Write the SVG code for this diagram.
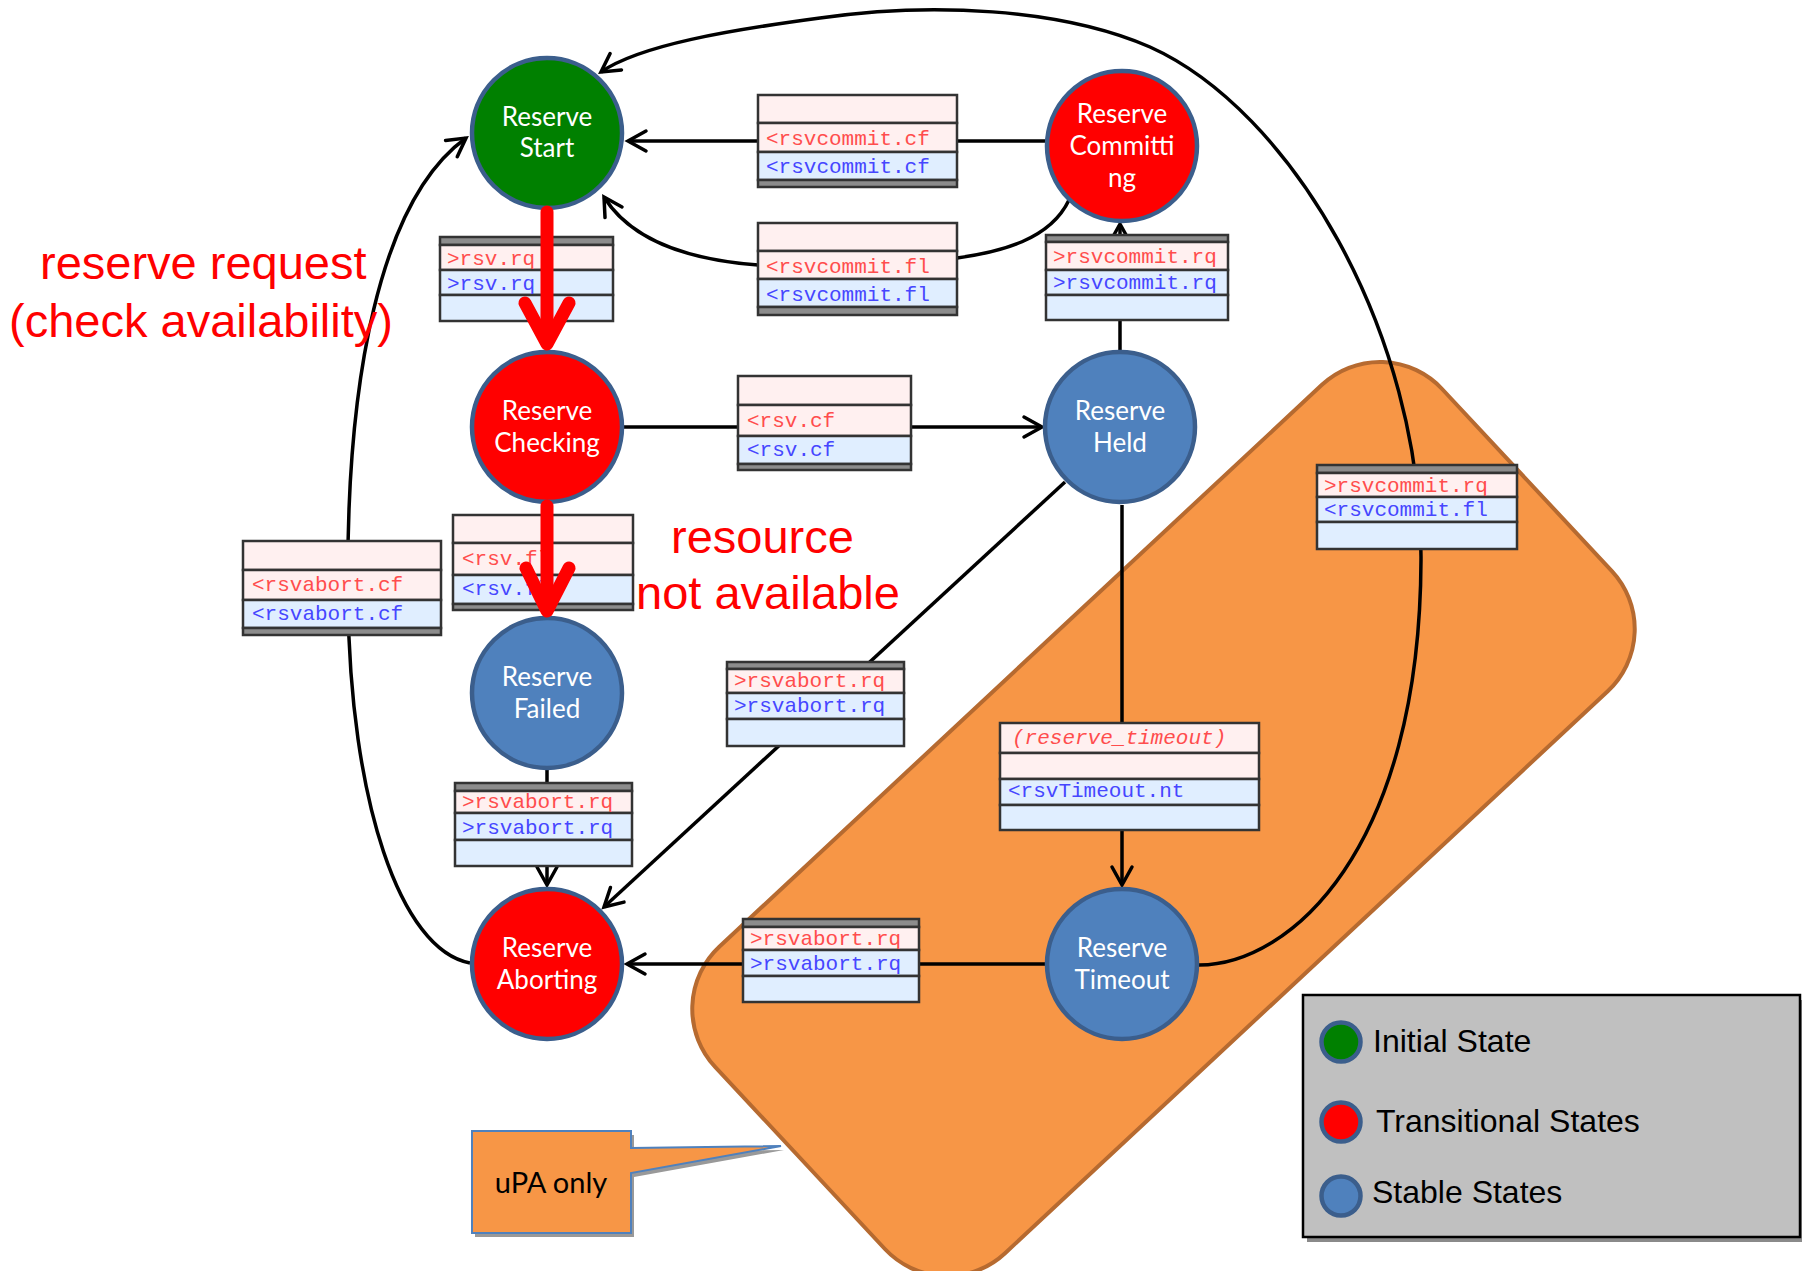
<svg xmlns="http://www.w3.org/2000/svg" width="1802" height="1271" viewBox="0 0 1802 1271">
<style>
.node circle{stroke:#3b5e8c;stroke-width:4.5}
.green{fill:#008000}.red{fill:#ff0000}.blue{fill:#4f81bd}
.nt{fill:#ffffff;font-family:Lato,"Open Sans",sans-serif;font-size:26px;text-anchor:middle}
.conn path,.conn line{fill:none;stroke:#000;stroke-width:3.5}
.tbl rect{stroke:#333;stroke-width:2.5}
.p{fill:#fff0f0}.b{fill:#e0eeff}.bar{fill:#8c8c8c}
.mt{font-family:"Liberation Mono","Courier New",monospace;font-size:21px}
.tp{fill:#ff4d4d}.tbu{fill:#4646ff}
.ann{fill:#ff0000;font-family:"Liberation Sans",Arial,sans-serif;font-size:47px}
.leg{fill:#000;font-family:"Liberation Sans",Arial,sans-serif;font-size:32px}
.redarrow{fill:none;stroke:#ff0000;stroke-width:13;stroke-linecap:round;stroke-linejoin:round}
</style>
<defs>
<marker id="arr" markerUnits="userSpaceOnUse" markerWidth="40" markerHeight="40" viewBox="-25 -20 40 40" refX="0" refY="0" orient="auto">
<path d="M-18,-10 L0,0 L-18,10" fill="none" stroke="#000" stroke-width="3.5" stroke-linecap="round" stroke-linejoin="miter"/>
</marker>
</defs>
<rect width="1802" height="1271" fill="#ffffff"/>

<g id="upa-region">
<rect x="-497" y="-209.5" width="994" height="419" rx="85" ry="85" transform="translate(1163.5,819) rotate(-43)" fill="#f79646" stroke="#b66a30" stroke-width="4"/>
</g>

<g id="connectors" class="conn">
<path d="M1046,141 L628,141" marker-end="url(#arr)"/>
<path d="M1069,200 C1050,240 1000,252 957,258 L758,265 C690,260 632,242 604,197" marker-end="url(#arr)"/>
<path d="M1199,965 C1290,965 1420,850 1421,560 C1422,330 1290,110 1150,47 C1060,8 930,2 820,18 C730,30 640,45 601,72" marker-end="url(#arr)"/>
<path d="M470,963 C400,950 350,800 348,600 C345,380 380,200 466,138" marker-end="url(#arr)"/>
<path d="M624,427 L1042,427" marker-end="url(#arr)"/>
<path d="M1120,350 L1120,224" marker-end="url(#arr)"/>
<path d="M1065,482 L604,907" marker-end="url(#arr)"/>
<path d="M1122,505 L1122,885" marker-end="url(#arr)"/>
<path d="M547,770 L547,885" marker-end="url(#arr)"/>
<path d="M1046,964 L627,964" marker-end="url(#arr)"/>
</g>

<g id="t-rsvcommit-cf" class="tbl">
<rect class="p" x="758" y="95" width="199" height="28"/>
<rect class="p" x="758" y="123" width="199" height="29"/>
<rect class="b" x="758" y="152" width="199" height="28"/>
<rect class="bar" x="758" y="180" width="199" height="7"/>
<text class="mt tp" x="766" y="145">&lt;rsvcommit.cf</text>
<text class="mt tbu" x="766" y="173">&lt;rsvcommit.cf</text>
</g>
<g id="t-rsvcommit-fl" class="tbl">
<rect class="p" x="758" y="223" width="199" height="28"/>
<rect class="p" x="758" y="251" width="199" height="28"/>
<rect class="b" x="758" y="279" width="199" height="28"/>
<rect class="bar" x="758" y="307" width="199" height="8"/>
<text class="mt tp" x="766" y="273">&lt;rsvcommit.fl</text>
<text class="mt tbu" x="766" y="301">&lt;rsvcommit.fl</text>
</g>
<g id="t-rsv-rq" class="tbl">
<rect class="bar" x="440" y="237" width="173" height="8"/>
<rect class="p" x="440" y="245" width="173" height="25"/>
<rect class="b" x="440" y="270" width="173" height="25"/>
<rect class="b" x="440" y="295" width="173" height="26"/>
<text class="mt tp" x="447" y="265">&gt;rsv.rq</text>
<text class="mt tbu" x="447" y="290">&gt;rsv.rq</text>
</g>
<g id="t-rsvcommit-rq" class="tbl">
<rect class="bar" x="1046" y="235" width="182" height="7"/>
<rect class="p" x="1046" y="242" width="182" height="28"/>
<rect class="b" x="1046" y="270" width="182" height="25"/>
<rect class="b" x="1046" y="295" width="182" height="25"/>
<text class="mt tp" x="1053" y="263">&gt;rsvcommit.rq</text>
<text class="mt tbu" x="1053" y="289">&gt;rsvcommit.rq</text>
</g>
<g id="t-rsv-cf" class="tbl">
<rect class="p" x="738" y="376" width="173" height="29"/>
<rect class="p" x="738" y="405" width="173" height="31"/>
<rect class="b" x="738" y="436" width="173" height="28"/>
<rect class="bar" x="738" y="464" width="173" height="6"/>
<text class="mt tp" x="747" y="427">&lt;rsv.cf</text>
<text class="mt tbu" x="747" y="456">&lt;rsv.cf</text>
</g>
<g id="t-rsvabort-cf" class="tbl">
<rect class="p" x="243" y="541" width="198" height="29"/>
<rect class="p" x="243" y="570" width="198" height="30"/>
<rect class="b" x="243" y="600" width="198" height="28"/>
<rect class="bar" x="243" y="628" width="198" height="7"/>
<text class="mt tp" x="252" y="591">&lt;rsvabort.cf</text>
<text class="mt tbu" x="252" y="620">&lt;rsvabort.cf</text>
</g>
<g id="t-rsv-fl" class="tbl">
<rect class="p" x="453" y="515" width="180" height="28"/>
<rect class="p" x="453" y="543" width="180" height="32"/>
<rect class="b" x="453" y="575" width="180" height="29"/>
<rect class="bar" x="453" y="604" width="180" height="6"/>
<text class="mt tp" x="462" y="565">&lt;rsv.fl</text>
<text class="mt tbu" x="462" y="595">&lt;rsv.fl</text>
</g>
<g id="t-rsvabort-rq-mid" class="tbl">
<rect class="bar" x="727" y="662" width="177" height="7"/>
<rect class="p" x="727" y="669" width="177" height="24"/>
<rect class="b" x="727" y="693" width="177" height="26"/>
<rect class="b" x="727" y="719" width="177" height="27"/>
<text class="mt tp" x="734" y="687">&gt;rsvabort.rq</text>
<text class="mt tbu" x="734" y="712">&gt;rsvabort.rq</text>
</g>
<g id="t-reserve-timeout" class="tbl">
<rect class="p" x="1000" y="723" width="259" height="30"/>
<rect class="p" x="1000" y="753" width="259" height="26"/>
<rect class="b" x="1000" y="779" width="259" height="26"/>
<rect class="b" x="1000" y="805" width="259" height="25"/>
<text class="mt tp" x="1012" y="744" font-style="italic" font-size="20.5">(reserve_timeout)</text>
<text class="mt tbu" x="1008" y="797">&lt;rsvTimeout.nt</text>
</g>
<g id="t-rsvcommit-rq-fl" class="tbl">
<rect class="bar" x="1317" y="465" width="200" height="8"/>
<rect class="p" x="1317" y="473" width="200" height="24"/>
<rect class="b" x="1317" y="497" width="200" height="25"/>
<rect class="b" x="1317" y="522" width="200" height="27"/>
<text class="mt tp" x="1324" y="492">&gt;rsvcommit.rq</text>
<text class="mt tbu" x="1324" y="516">&lt;rsvcommit.fl</text>
</g>
<g id="t-rsvabort-rq-failed" class="tbl">
<rect class="bar" x="455" y="783" width="177" height="8"/>
<rect class="p" x="455" y="791" width="177" height="22"/>
<rect class="b" x="455" y="813" width="177" height="27"/>
<rect class="b" x="455" y="840" width="177" height="26"/>
<text class="mt tp" x="462" y="808">&gt;rsvabort.rq</text>
<text class="mt tbu" x="462" y="834">&gt;rsvabort.rq</text>
</g>
<g id="t-rsvabort-rq-timeout" class="tbl">
<rect class="bar" x="743" y="919" width="176" height="8"/>
<rect class="p" x="743" y="927" width="176" height="23"/>
<rect class="b" x="743" y="950" width="176" height="26"/>
<rect class="b" x="743" y="976" width="176" height="26"/>
<text class="mt tp" x="750" y="945">&gt;rsvabort.rq</text>
<text class="mt tbu" x="750" y="970">&gt;rsvabort.rq</text>
</g>

<g id="node-start" class="node">
<circle class="green" cx="547" cy="133" r="75"/>
<text class="nt" x="547" y="126">Reserve</text>
<text class="nt" x="547" y="157">Start</text>
</g>
<g id="node-committing" class="node">
<circle class="red" cx="1122" cy="146" r="75"/>
<text class="nt" x="1122" y="123">Reserve</text>
<text class="nt" x="1122" y="155">Committi</text>
<text class="nt" x="1122" y="187">ng</text>
</g>
<g id="node-checking" class="node">
<circle class="red" cx="547" cy="427" r="75"/>
<text class="nt" x="547" y="420">Reserve</text>
<text class="nt" x="547" y="452">Checking</text>
</g>
<g id="node-held" class="node">
<circle class="blue" cx="1120" cy="427" r="75"/>
<text class="nt" x="1120" y="420">Reserve</text>
<text class="nt" x="1120" y="452">Held</text>
</g>
<g id="node-failed" class="node">
<circle class="blue" cx="547" cy="693" r="75"/>
<text class="nt" x="547" y="686">Reserve</text>
<text class="nt" x="547" y="718">Failed</text>
</g>
<g id="node-aborting" class="node">
<circle class="red" cx="547" cy="964" r="75"/>
<text class="nt" x="547" y="957">Reserve</text>
<text class="nt" x="547" y="989">Aborting</text>
</g>
<g id="node-timeout" class="node">
<circle class="blue" cx="1122" cy="964" r="75"/>
<text class="nt" x="1122" y="957">Reserve</text>
<text class="nt" x="1122" y="989">Timeout</text>
</g>

<g id="red-arrows">
<path class="redarrow" d="M547,212 L547,340"/>
<path class="redarrow" d="M525,303 L547,344 L569,303"/>
<path class="redarrow" d="M547,506 L547,608"/>
<path class="redarrow" d="M526,568 L547,611 L569,568"/>
</g>

<g id="annotations">
<text class="ann" x="40" y="279">reserve request</text>
<text class="ann" x="9" y="337">(check availability)</text>
<text class="ann" x="671" y="553">resource</text>
<text class="ann" x="636" y="609">not available</text>
</g>

<g id="callout">
<path d="M475,1135 L634,1135 L634,1152 L784,1150 L634,1177 L634,1237 L475,1237 Z" fill="#999999"/>
<path d="M472,1131 L631,1131 L631,1148 L781,1146 L631,1173 L631,1233 L472,1233 Z" fill="#f79646" stroke="#4f81bd" stroke-width="2"/>
<text x="551" y="1193" fill="#000" font-family="Lato,'Open Sans',sans-serif" font-size="29" text-anchor="middle">uPA only</text>
</g>

<g id="legend">
<rect x="1307" y="1000" width="497" height="242" fill="#8a8a8a"/>
<rect x="1303" y="995" width="497" height="242" fill="#c0c0c0" stroke="#000" stroke-width="2.5"/>
<circle cx="1341" cy="1042" r="19.5" fill="#008000" stroke="#3b5e8c" stroke-width="4.5"/>
<circle cx="1341" cy="1122" r="19.5" fill="#ff0000" stroke="#3b5e8c" stroke-width="4.5"/>
<circle cx="1341" cy="1196" r="19.5" fill="#4f81bd" stroke="#3b5e8c" stroke-width="4.5"/>
<text class="leg" x="1373" y="1052">Initial State</text>
<text class="leg" x="1376" y="1132">Transitional States</text>
<text class="leg" x="1372" y="1203">Stable States</text>
</g>
</svg>
